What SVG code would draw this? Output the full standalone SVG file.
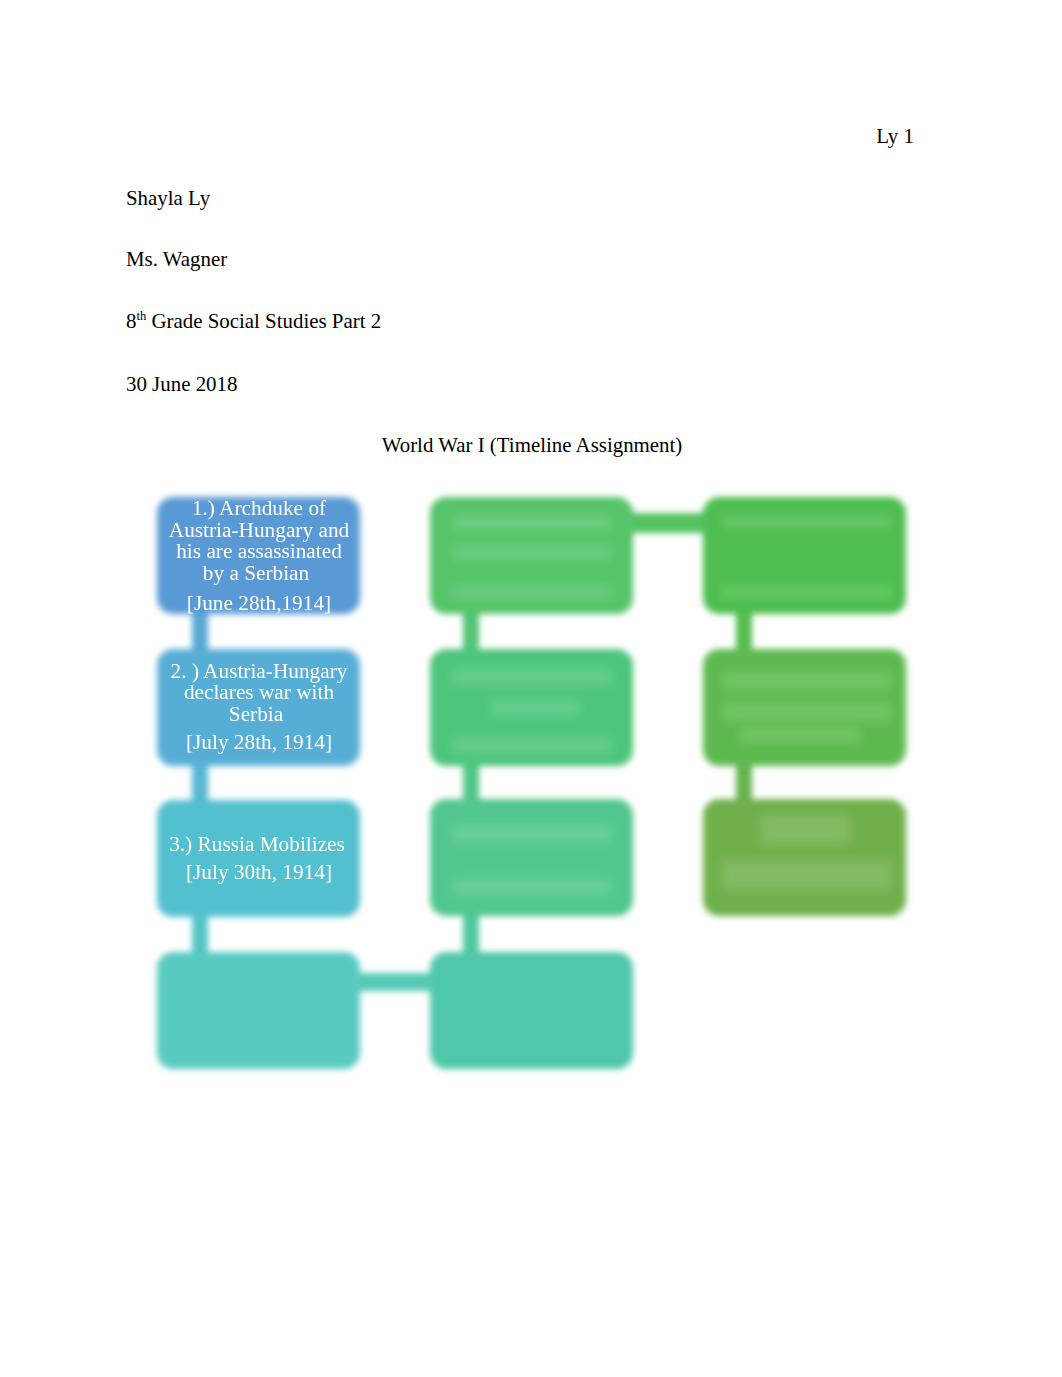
<svg xmlns="http://www.w3.org/2000/svg" width="1062" height="1377" viewBox="0 0 1062 1377">
<defs>
<filter id="soft" x="-10%" y="-10%" width="120%" height="120%"><feGaussianBlur stdDeviation="3"/></filter>
<filter id="smudge" x="-20%" y="-50%" width="140%" height="200%"><feGaussianBlur stdDeviation="5"/></filter>
<filter id="txt"><feGaussianBlur stdDeviation="0.5"/></filter>
</defs>
<style>
.doc{font-family:"Liberation Serif","Times New Roman",serif;font-size:20.9px;fill:#000}
.bt{font-family:"Liberation Serif","Times New Roman",serif;font-size:21.3px;fill:#fff;text-anchor:middle}
.box{filter:url(#soft)}
.sm{fill:#fff;opacity:0.13;filter:url(#smudge)}
</style>
<rect width="1062" height="1377" fill="#fff"/>
<g id="header">
<text class="doc" x="914" y="143" text-anchor="end">Ly 1</text>
<text class="doc" x="126" y="205">Shayla Ly</text>
<text class="doc" x="126" y="266">Ms. Wagner</text>
<text class="doc" x="126" y="328">8<tspan font-size="12.5" dy="-8">th</tspan><tspan dy="8"> Grade Social Studies Part 2</tspan></text>
<text class="doc" x="126" y="391">30 June 2018</text>
<text class="doc" x="532" y="452" text-anchor="middle">World War I (Timeline Assignment)</text>
</g>
<g id="connectors" filter="url(#soft)">
<rect x="192" y="605" width="16" height="52" fill="#58a8d4"/>
<rect x="192" y="757" width="16" height="52" fill="#54b8d2"/>
<rect x="192" y="908" width="16" height="52" fill="#55c4c8"/>
<rect x="352" y="973" width="86" height="18" fill="#56c9b6"/>
<rect x="463" y="905" width="16" height="55" fill="#50c89c"/>
<rect x="463" y="757" width="16" height="50" fill="#4fc684"/>
<rect x="463" y="605" width="16" height="52" fill="#52c474"/>
<rect x="625" y="513" width="86" height="20" fill="#52c260"/>
<rect x="736" y="605" width="16" height="52" fill="#54bc50"/>
<rect x="736" y="757" width="16" height="50" fill="#66b44e"/>
</g>
<g id="n1"><rect class="box" x="157" y="497" width="203" height="117" rx="16" fill="#5899d6"/>
<g filter="url(#txt)"><text class="bt" x="259" y="515">1.) Archduke of</text><text class="bt" x="259" y="537">Austria-Hungary and</text><text class="bt" x="259" y="558">his are assassinated</text><text class="bt" x="256" y="580">by a Serbian</text><text class="bt" x="259" y="610">[June 28th,1914]</text></g></g>
<g id="n2"><rect class="box" x="157" y="649" width="203" height="117" rx="16" fill="#56aed6"/>
<g filter="url(#txt)"><text class="bt" x="259" y="678">2. ) Austria-Hungary</text><text class="bt" x="259" y="699">declares war with</text><text class="bt" x="256" y="721">Serbia</text><text class="bt" x="259" y="749">[July 28th, 1914]</text></g></g>
<g id="n3"><rect class="box" x="157" y="800" width="203" height="117" rx="16" fill="#53c0cf"/>
<g filter="url(#txt)"><text class="bt" x="257" y="851">3.) Russia Mobilizes</text><text class="bt" x="259" y="879">[July 30th, 1914]</text></g></g>
<g id="n4"><rect class="box" x="157" y="952" width="203" height="117" rx="16" fill="#58cac0"/></g>
<g id="n5"><rect class="box" x="430" y="952" width="203" height="117" rx="16" fill="#50c7aa"/></g>
<g id="n6"><rect class="box" x="430" y="799" width="203" height="117" rx="16" fill="#51c78e"/>
<rect class="sm" x="452" y="825" width="160" height="18"/><rect class="sm" x="452" y="878" width="160" height="16"/></g>
<g id="n7"><rect class="box" x="430" y="649" width="203" height="117" rx="16" fill="#4ec57b"/>
<rect class="sm" x="452" y="668" width="160" height="18"/><rect class="sm" x="490" y="700" width="90" height="16"/><rect class="sm" x="452" y="737" width="160" height="16"/></g>
<g id="n8"><rect class="box" x="430" y="497" width="203" height="117" rx="16" fill="#55c46b"/>
<rect class="sm" x="452" y="515" width="160" height="16"/><rect class="sm" x="452" y="545" width="160" height="16"/><rect class="sm" x="452" y="585" width="160" height="14"/></g>
<g id="n9"><rect class="box" x="703" y="497" width="203" height="117" rx="16" fill="#4dbe50"/>
<rect class="sm" x="722" y="515" width="170" height="14"/><rect class="sm" x="722" y="585" width="170" height="14"/></g>
<g id="n10"><rect class="box" x="703" y="649" width="203" height="117" rx="16" fill="#5dba4f"/>
<rect class="sm" x="722" y="672" width="170" height="18"/><rect class="sm" x="722" y="703" width="170" height="18"/><rect class="sm" x="740" y="727" width="120" height="16"/></g>
<g id="n11"><rect class="box" x="703" y="799" width="203" height="117" rx="16" fill="#6fb04c"/>
<rect class="sm" x="760" y="815" width="90" height="30"/><rect class="sm" x="722" y="860" width="170" height="30"/></g>
</svg>
